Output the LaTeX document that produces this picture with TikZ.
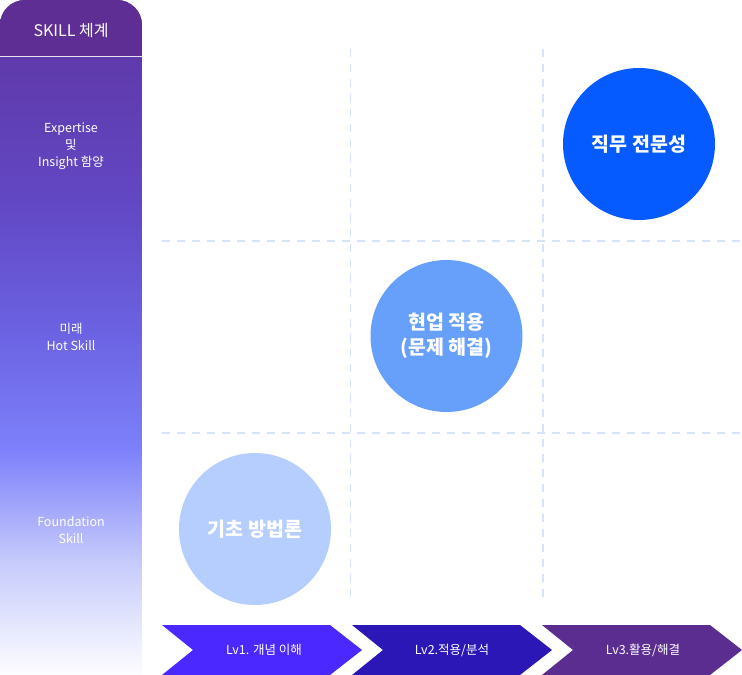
\documentclass[tikz,border=0pt]{standalone}
\usepackage{fontspec}
\setmainfont{Noto Sans CJK KR}
\usetikzlibrary{shapes.geometric}
\definecolor{cTop}{HTML}{5E2E94}
\definecolor{cA}{HTML}{5F3AAB}
\definecolor{cB}{HTML}{6247C3}
\definecolor{cC}{HTML}{6B62E2}
\definecolor{cD}{HTML}{7D80FA}
\definecolor{cE}{HTML}{C5CAFB}
\definecolor{cF}{HTML}{FDFDFF}
\definecolor{arrA}{HTML}{4B28FF}
\definecolor{arrB}{HTML}{2A17B5}
\definecolor{arrC}{HTML}{5C2D91}
\definecolor{circA}{HTML}{055BFF}
\definecolor{circB}{HTML}{67A0FB}
\definecolor{circC}{HTML}{B5CEFD}
\definecolor{gridc}{HTML}{D6E4FB}
\pgfdeclareverticalshading{skillshade}{100bp}{color(0bp)=(cF); color(25bp)=(cF); color(33.5bp)=(cE); color(41.7bp)=(cD); color(50.6bp)=(cC); color(60.2bp)=(cB); color(70.9bp)=(cA); color(75bp)=(cTop); color(100bp)=(cTop)}
\tikzset{
  gridline/.style={draw=gridc, line width=1.6pt, dash pattern=on 8pt off 7pt},
  bubble/.style={circle, minimum size=152pt, inner sep=0pt, text=white, font=\bfseries\fontsize{19.5}{25}\selectfont, align=center},
  lvtext/.style={text=white, font=\fontsize{12.5}{15}\selectfont},
  sidetext/.style={text=white, font=\fontsize{12.5}{17}\selectfont, align=center},
}
\begin{document}
\begin{tikzpicture}[x=1pt,y=-1pt]
\useasboundingbox (0,0) rectangle (742,675);
% left column
\begin{scope}
\clip[rounded corners=25pt] (0,0) rectangle (142,720);
\shade[shading=skillshade] (0,0) rectangle (142,675);
\fill[cTop] (0,0) rectangle (142,56);
\end{scope}
\coordinate (sepa) at (0,56.5); \coordinate (sepb) at (142,56.5);
\draw[color=white!85!cTop, line width=1pt] (sepa) -- (sepb);
\node[text=white, font=\fontsize{16}{18}\selectfont] (hdr) at (71,31) {SKILL 체계};
\node[sidetext] (expert) at (71,146) {Expertise\\및\\Insight 함양};
\node[sidetext] (hot) at (71,337) {미래\\Hot Skill};
\node[sidetext] (found) at (71,530) {Foundation\\Skill};
% grid
\coordinate (h1a) at (162,241); \coordinate (h1b) at (742,241);
\coordinate (h2a) at (162,433); \coordinate (h2b) at (742,433);
\coordinate (v1a) at (350.5,49); \coordinate (v1b) at (350.5,604);
\coordinate (v2a) at (543,49); \coordinate (v2b) at (543,604);
\draw[gridline] (h1a) -- (h1b);
\draw[gridline] (h2a) -- (h2b);
\draw[gridline] (v1a) -- (v1b);
\draw[gridline] (v2a) -- (v2b);
% bubbles
\node[bubble, fill=circA] (c1) at (639,144) {직무 전문성};
\node[bubble, fill=circB] (c2) at (446.5,336) {현업 적용\\(문제 해결)};
\node[bubble, fill=circC] (c3) at (255,529) {기초 방법론};
% arrows
\fill[arrA] (162,625) -- (330,625) -- (362,650) -- (330,675) -- (162,675) -- (193,650) -- cycle;
\fill[arrB] (352,625) -- (520,625) -- (552,650) -- (520,675) -- (352,675) -- (383,650) -- cycle;
\fill[arrC] (542,625) -- (710,625) -- (742,650) -- (710,675) -- (542,675) -- (573,650) -- cycle;
\node[lvtext] (l1) at (264,650) {Lv1. 개념 이해};
\node[lvtext] (l2) at (452,650) {Lv2.적용/분석};
\node[lvtext] (l3) at (643,650) {Lv3.활용/해결};
\end{tikzpicture}
\end{document}
